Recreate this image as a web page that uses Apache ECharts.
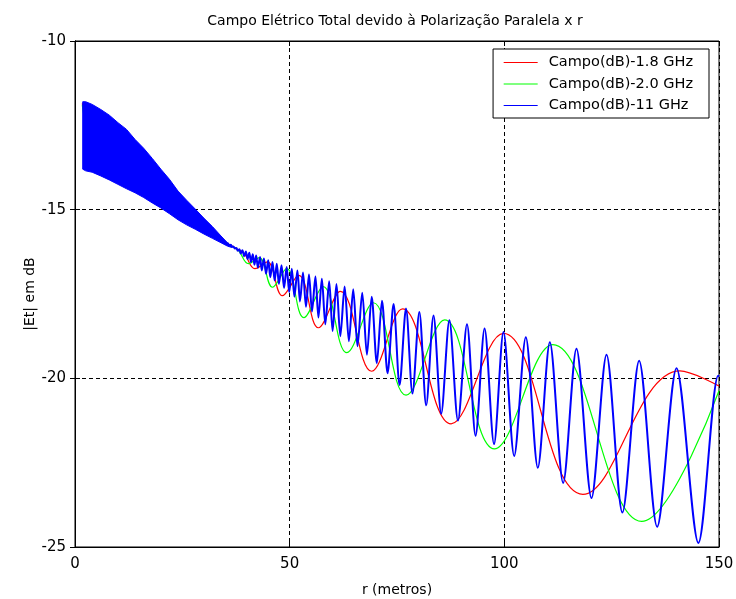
<!DOCTYPE html>
<html>
<head>
<meta charset="utf-8">
<script src="https://cdn.jsdelivr.net/npm/echarts@6.0.0/dist/echarts.min.js"></script>
<style>
html,body{margin:0;padding:0;background:#fff;}
#chart{width:736px;height:599px;}
</style>
</head>
<body>
<div id="chart"></div>
<script>
// ---- data ----
var titleText = 'Campo Elétrico Total devido à Polarização Paralela x r';
var xName = 'r (metros)';
var yName = '|Et| em dB';
var xTicks = [0, 50, 100, 150];
var yTicks = [-25, -20, -15, -10];
var seriesNames = ['Campo(dB)-1.8 GHz', 'Campo(dB)-2.0 GHz', 'Campo(dB)-11 GHz'];

// 1.8 GHz (red): r, |Et| dB at turning points
var redR = [1.7, 3, 5, 10, 20, 30, 35, 37.5, 39.4, 41.9, 44.8, 48.3, 52.1, 56.7, 61.8, 69.1, 76.3, 87.6, 99.8, 118.3, 140.9, 150];
var redV = [-11.85, -12.6, -13.2, -13.3, -14.3, -15.4, -15.95, -16.15, -16.3, -16.75, -16.55, -17.55, -16.95, -18.5, -17.42, -19.79, -17.94, -21.35, -18.67, -23.44, -19.78, -20.23];

// 2.0 GHz (green)
var greenR = [1.7, 3, 5, 10, 20, 30, 35, 36, 38, 40.4, 42.9, 46.0, 49.3, 53.3, 57.8, 63.3, 69.5, 77.1, 86.1, 97.7, 111.3, 132, 150];
var greenV = [-11.9, -12.7, -13.2, -13.3, -14.3, -15.4, -15.95, -16.05, -16.2, -16.6, -16.42, -17.3, -16.75, -18.2, -17.28, -19.24, -17.76, -20.5, -18.27, -22.09, -19.0, -24.24, -20.37];

// 11 GHz (blue): dense part seen as a filled band (upper / lower edges)
var bandR     = [1.8, 2.5, 4, 6, 8, 10, 12, 14, 16, 18, 20, 22, 24, 26, 28, 30, 32, 34, 35.5, 36.5];
var bandUpper = [-11.8, -11.8, -11.88, -12.03, -12.2, -12.42, -12.62, -12.92, -13.18, -13.48, -13.8, -14.1, -14.45, -14.72, -14.98, -15.25, -15.5, -15.78, -15.98, -16.1];
var bandLower = [-13.8, -13.85, -13.89, -14.0, -14.12, -14.25, -14.38, -14.5, -14.64, -14.8, -14.95, -15.12, -15.3, -15.45, -15.58, -15.72, -15.85, -15.98, -16.08, -16.12];

// 11 GHz (blue): resolved oscillations, peaks and troughs
var blueR = [35.6, 35.9, 36.3, 36.6, 36.9, 37.2, 37.6, 37.9, 38.3, 38.6, 39.0, 39.4, 39.8, 40.2, 40.6, 41.0, 41.4, 41.8, 42.2, 42.6,
             43.1, 43.5, 44.0, 44.5, 45.0, 45.5, 46.0, 46.5, 47.0, 47.5, 48.1, 48.7, 49.3, 49.9, 50.5, 51.1, 51.8, 52.4, 53.1, 53.8,
             54.5, 55.2, 56.0, 56.7, 57.5, 58.3, 59.2, 60.0, 60.9, 61.8, 62.8, 63.8, 64.8, 65.8, 66.9, 68.0, 69.1, 70.3, 71.5, 72.8,
             74.2, 75.6, 77.1, 78.6, 80.2, 81.8, 83.5, 85.3, 87.2, 89.2, 91.3, 93.3, 95.4, 97.6, 99.8, 102.3, 105.0, 107.8, 110.6, 113.7,
             116.8, 120.3, 123.8, 127.5, 131.4, 135.6, 140.1, 145.2, 149.8, 150];
var blueV = [-15.98, -16.06, -16.04, -16.1, -16.09, -16.15, -16.14, -16.22, -16.17, -16.3, -16.2, -16.38, -16.24, -16.46, -16.28, -16.55, -16.32, -16.63, -16.36, -16.72,
             -16.4, -16.8, -16.45, -16.9, -16.5, -17.0, -16.55, -17.1, -16.6, -17.2, -16.65, -17.32, -16.7, -17.45, -16.75, -17.58, -16.8, -17.72, -16.86, -17.88,
             -16.92, -18.02, -16.98, -18.2, -17.05, -18.4, -17.12, -18.6, -17.2, -18.75, -17.28, -18.9, -17.36, -19.05, -17.46, -19.3, -17.58, -19.55, -17.7, -19.85,
             -17.8, -20.2, -17.93, -20.45, -18.03, -20.8, -18.14, -21.05, -18.28, -21.25, -18.4, -21.7, -18.52, -21.95, -18.63, -22.3, -18.78, -22.65, -18.93, -23.1,
             -19.12, -23.55, -19.3, -23.98, -19.48, -24.4, -19.7, -24.88, -19.92, -19.95];

function pairs(xs, ys) { var o = []; for (var i = 0; i < xs.length; i++) o.push([xs[i], ys[i]]); return o; }

var FONT = 'DejaVu Sans';
var chart = echarts.init(document.getElementById('chart'), null, {renderer: 'canvas'});

var axisCommon = {
  axisLine: {show: true, lineStyle: {color: '#000', width: 1}},
  axisTick: {show: true, inside: true, length: 5, lineStyle: {color: '#000'}}
};

chart.setOption({
  animation: false,
  backgroundColor: '#fff',
  title: {
    text: titleText, left: 390, top: 9, textAlign: 'center',
    textStyle: {fontFamily: FONT, fontSize: 14, fontWeight: 'normal', color: '#000'}
  },
  grid: {left: 75, right: 17, top: 41, bottom: 52, outerBoundsMode: 'none', containLabel: false,
         show: true, borderColor: '#000', borderWidth: 1, backgroundColor: '#fff'},
  legend: {
    orient: 'vertical', right: 27, top: 49,
    data: seriesNames,
    itemWidth: 34, itemHeight: 14, itemGap: 6.5,
    padding: [6, 16, 5, 10],
    backgroundColor: '#fff', borderColor: '#000', borderWidth: 1, borderRadius: 0,
    itemStyle: {opacity: 0, color: 'transparent', borderWidth: 0},
    lineStyle: {width: 1.2},
    textStyle: {fontFamily: FONT, fontSize: 14.5, color: '#000', padding: [0, 0, 0, 6]}
  },
  xAxis: [
    Object.assign({
      type: 'value', min: xTicks[0], max: xTicks[xTicks.length - 1], interval: 50,
      name: xName, nameLocation: 'middle', nameGap: 36, nameMoveOverlap: false,
      nameTextStyle: {fontFamily: FONT, fontSize: 14, color: '#000'},
      axisLabel: {fontFamily: FONT, fontSize: 15, color: '#000', margin: 10},
      splitLine: {show: true, lineStyle: {color: '#000', type: [4, 3], width: 1}}
    }, axisCommon),
    Object.assign({
      type: 'value', position: 'top', min: xTicks[0], max: xTicks[xTicks.length - 1], interval: 50,
      axisLabel: {show: false}, splitLine: {show: false}
    }, axisCommon)
  ],
  yAxis: [
    Object.assign({
      type: 'value', min: yTicks[0], max: yTicks[yTicks.length - 1], interval: 5,
      name: yName, nameLocation: 'middle', nameGap: 38, nameRotate: 90, nameMoveOverlap: false,
      nameTextStyle: {fontFamily: FONT, fontSize: 14, color: '#000'},
      axisLabel: {fontFamily: FONT, fontSize: 15, color: '#000', margin: 9},
      splitLine: {show: true, lineStyle: {color: '#000', type: [4, 3], width: 1}}
    }, axisCommon),
    Object.assign({
      type: 'value', position: 'right', min: yTicks[0], max: yTicks[yTicks.length - 1], interval: 5,
      axisLabel: {show: false}, splitLine: {show: false}
    }, axisCommon)
  ],
  series: [
    {
      name: seriesNames[0], type: 'line', data: pairs(redR, redV), xAxisIndex: 0, yAxisIndex: 0,
      symbol: 'none', smooth: 0.4, color: '#ff0000', lineStyle: {color: '#ff0000', width: 1.2}, z: 2
    },
    {
      name: seriesNames[1], type: 'line', data: pairs(greenR, greenV), xAxisIndex: 0, yAxisIndex: 0,
      symbol: 'none', smooth: 0.4, color: '#00ff00', lineStyle: {color: '#00ff00', width: 1.2}, z: 3
    },
    {
      name: 'band11', type: 'custom', xAxisIndex: 0, yAxisIndex: 0, silent: true, z: 4,
      data: [[bandR[0], bandUpper[0]]],
      renderItem: function (params, api) {
        var pts = [];
        for (var i = 0; i < bandR.length; i++) pts.push(api.coord([bandR[i], bandUpper[i]]));
        for (var j = bandR.length - 1; j >= 0; j--) pts.push(api.coord([bandR[j], bandLower[j]]));
        return {type: 'polygon', shape: {points: pts}, style: {fill: '#0000ff', stroke: '#0000ff', lineWidth: 1}};
      }
    },
    {
      name: seriesNames[2], type: 'line', data: pairs(blueR, blueV), xAxisIndex: 0, yAxisIndex: 0,
      symbol: 'none', smooth: 0.3, color: '#0000ff', lineStyle: {color: '#0000ff', width: 2}, z: 5
    }
  ]
});
</script>
</body>
</html>
